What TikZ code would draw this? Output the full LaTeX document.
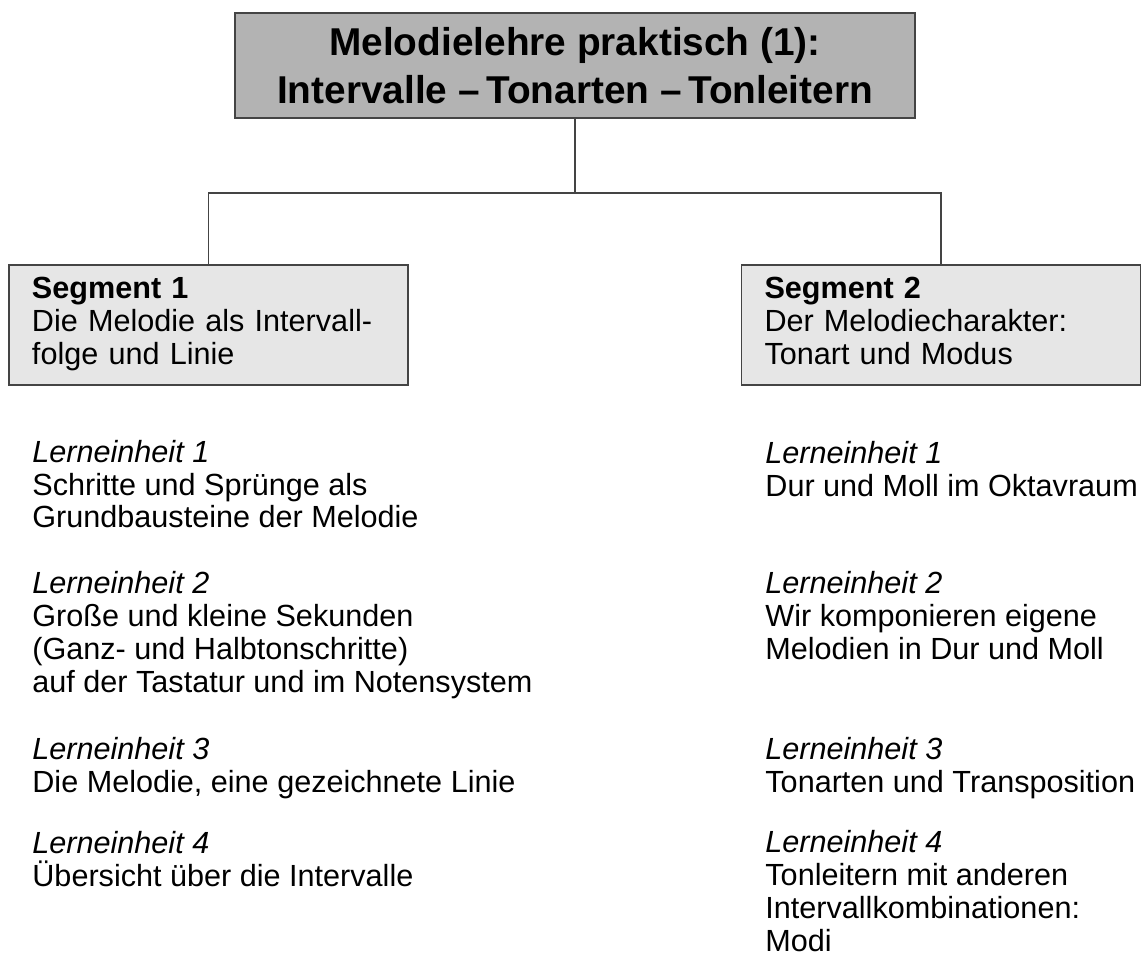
\documentclass[tikz,border=0pt]{standalone}
\usepackage{xcolor}
\usepackage{fontspec}
\setmainfont{Liberation Sans}
\usepackage{tikz}
\usetikzlibrary{positioning}
\definecolor{titlegray}{HTML}{B3B3B3}
\definecolor{seggray}{HTML}{E6E6E6}
\definecolor{linegray}{HTML}{444444}

\begin{document}
\begin{tikzpicture}[x=0.5pt, y=-0.5pt,
  every node/.style={font=\fontsize{15.3}{16.35}\selectfont},
  titlebox/.style={draw=linegray, line width=0.9pt, fill=titlegray, align=center,
    minimum width=340pt, minimum height=52.5pt, inner sep=0pt,
    font=\fontsize{19.4}{24}\selectfont\bfseries},
  segbox/.style={draw=linegray, line width=0.9pt, fill=seggray, align=left,
    text width=176.5pt, inner xsep=11.5pt, inner ysep=0pt, minimum height=60pt},
  unit/.style={anchor=base west, align=left, inner sep=0pt},
  link/.style={draw=linegray, line width=0.7pt}]

\useasboundingbox (0,0) rectangle (1145,956);

% Title
\node[titlebox] (title) at (575,65.5) {Melodielehre praktisch (1):\\Intervalle --\,Tonarten --\,Tonleitern};

% Segments
\node[segbox] (seg1) at (208.5,325) {\strut\textbf{Segment 1}\\Die Melodie als Intervall-\\folge und Linie\strut};
\node[segbox] (seg2) at (941,325) {\strut\textbf{Segment 2}\\Der Melodiecharakter:\\Tonart und Modus\strut};

% Tree lines
\coordinate (split) at (575,193);
\draw[link] (title.south) -- (split);
\draw[link] (seg1.north) |- (split) -| (seg2.north);

% Learning units, segment 1 (placed at the baseline of the last line)
\node[unit] (s1u1) at (32,528) {\textit{Lerneinheit 1}\\Schritte und Sprünge als\\Grundbausteine der Melodie};
\node[unit] (s1u2) at (32,692) {\textit{Lerneinheit 2}\\Große und kleine Sekunden\\(Ganz- und Halbtonschritte)\\auf der Tastatur und im Notensystem};
\node[unit] (s1u3) at (32,792) {\textit{Lerneinheit 3}\\Die Melodie, eine gezeichnete Linie};
\node[unit] (s1u4) at (32,886) {\textit{Lerneinheit 4}\\Übersicht über die Intervalle};

% Learning units, segment 2
\node[unit] (s2u1) at (765,496) {\textit{Lerneinheit 1}\\Dur und Moll im Oktavraum};
\node[unit] (s2u2) at (765,659) {\textit{Lerneinheit 2}\\Wir komponieren eigene\\Melodien in Dur und Moll};
\node[unit] (s2u3) at (765,792) {\textit{Lerneinheit 3}\\Tonarten und Transposition};
\node[unit] (s2u4) at (765,951) {\textit{Lerneinheit 4}\\Tonleitern mit anderen\\Intervallkombinationen:\\Modi};

\end{tikzpicture}
\end{document}
